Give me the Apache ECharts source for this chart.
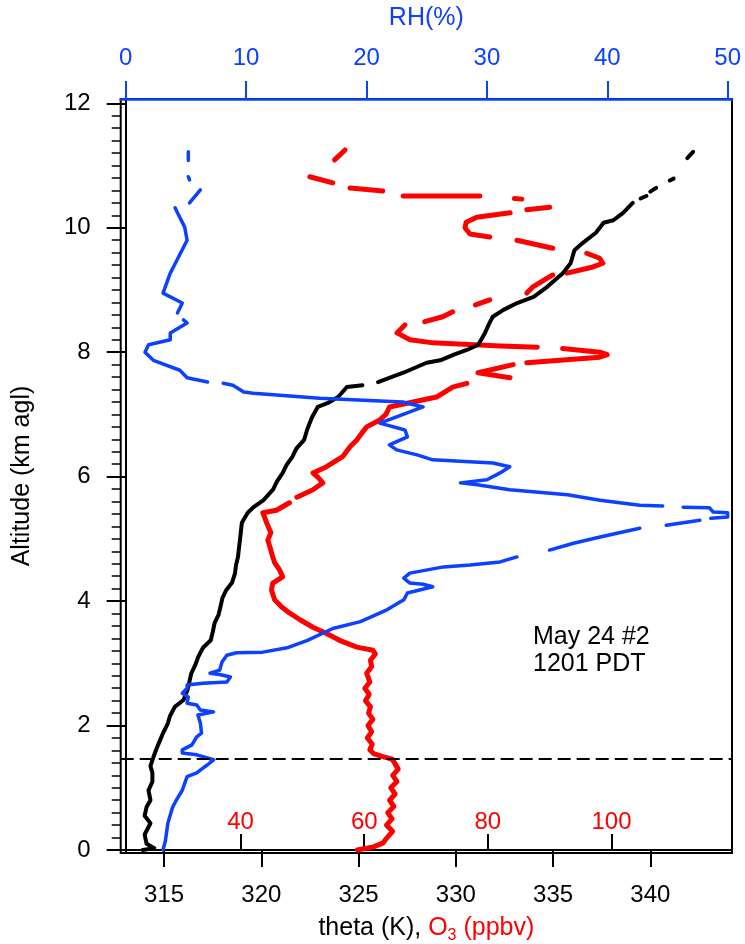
<!DOCTYPE html>
<html>
<head>
<meta charset="utf-8">
<script src="https://cdn.jsdelivr.net/npm/echarts@6/dist/echarts.min.js"></script>
<style>
  html, body { margin: 0; padding: 0; background: #fff; }
  #chart { width: 745px; height: 944px; }
</style>
</head>
<body>
<div id="chart"></div>
<script>
// Ozonesonde profile: potential temperature, ozone and relative humidity vs altitude.
const FONT = '"Liberation Sans", Arial, Helvetica, sans-serif';
const BLUE = '#0b41ff';
const RED = '#ff0000';
const BLACK = '#000000';

// Axis ticks
const altTicks = [0, 2, 4, 6, 8, 10, 12];
const thetaTicks = [315, 320, 325, 330, 335, 340];
const o3Ticks = [40, 60, 80, 100];
const rhTicks = [0, 10, 20, 30, 40, 50];

// Top of the boundary layer (km agl)
const boundaryLayerTop = 1.46;

// [theta (K), altitude (km)]; null marks a data gap
const thetaProfile = [
  [313.9, 0.00], [314.5, 0.03], [314.1, 0.10], [314.0, 0.25], [314.3, 0.43], [314.0, 0.55],
  [314.1, 0.69], [314.3, 0.80], [314.2, 0.96], [314.4, 1.10], [314.4, 1.24], [314.3, 1.35],
  [314.45, 1.49], [314.6, 1.62], [314.8, 1.77], [314.95, 1.88], [315.2, 2.04], [315.3, 2.15],
  [315.55, 2.30], [316.0, 2.41], [316.2, 2.57], [316.3, 2.70], [316.4, 2.84], [316.6, 2.97],
  [316.75, 3.10], [317.0, 3.25], [317.4, 3.37], [317.5, 3.50], [317.6, 3.65], [317.8, 3.78],
  [317.9, 3.91], [318.0, 4.05], [318.2, 4.18], [318.5, 4.30], [318.65, 4.45], [318.7, 4.58],
  [318.8, 4.71], [318.85, 4.85], [318.9, 4.98], [318.95, 5.12], [319.0, 5.26], [319.3, 5.42],
  [319.6, 5.51], [320.1, 5.62], [320.6, 5.79], [320.8, 5.92], [321.1, 6.06], [321.3, 6.19],
  [321.6, 6.32], [321.8, 6.45], [322.2, 6.59], [322.35, 6.75], [322.6, 6.95], [322.9, 7.12],
  [323.4, 7.18], [323.95, 7.28], [324.4, 7.44], [325.2, 7.47],
  null,
  [326.0, 7.52], [327.3, 7.67], [328.5, 7.83], [329.2, 7.87], [329.9, 7.96], [330.6, 8.04],
  [331.15, 8.12], [331.3, 8.20], [331.5, 8.31], [331.7, 8.45], [331.9, 8.57], [332.45, 8.68],
  [333.15, 8.79], [334.0, 8.89], [334.7, 9.05], [335.5, 9.27], [335.9, 9.43], [336.1, 9.64],
  [336.5, 9.75], [337.2, 9.92], [337.6, 10.08], [338.1, 10.12], [338.6, 10.24], [339.1, 10.40],
  null,
  [339.5, 10.47], [339.8, 10.51],
  null,
  [340.0, 10.58], [340.3, 10.64],
  null,
  [341.0, 10.76], [341.2, 10.79],
  null,
  [341.9, 11.12], [342.2, 11.22]
];

// [O3 (ppbv), altitude (km)]
const ozoneProfile = [
  [58.9, 0.00], [61.5, 0.05], [63.0, 0.11], [63.7, 0.20], [64.6, 0.30], [63.6, 0.40],
  [64.5, 0.50], [63.8, 0.60], [64.8, 0.70], [64.1, 0.80], [65.0, 0.90], [64.3, 1.00],
  [65.3, 1.10], [64.6, 1.20], [65.5, 1.30], [64.9, 1.40], [64.5, 1.46], [63.0, 1.50],
  [61.5, 1.55], [60.9, 1.61], [61.3, 1.70], [60.5, 1.80], [61.2, 1.90], [60.6, 2.00],
  [61.4, 2.10], [60.7, 2.20], [61.0, 2.30], [60.2, 2.40], [60.8, 2.50], [60.1, 2.60],
  [60.9, 2.70], [60.4, 2.84], [61.2, 2.95], [61.0, 3.05], [61.8, 3.15], [61.4, 3.21],
  [58.8, 3.26], [56.0, 3.37], [53.9, 3.48], [51.7, 3.58], [49.6, 3.70], [47.9, 3.81],
  [46.6, 3.91], [45.5, 4.02], [45.0, 4.18], [45.2, 4.29], [46.8, 4.39], [46.3, 4.50],
  [45.5, 4.62], [45.2, 4.71], [44.8, 4.85], [44.4, 4.98], [44.9, 5.10], [44.2, 5.26],
  [43.6, 5.42], [45.8, 5.46], [47.9, 5.58],
  null,
  [49.1, 5.67], [51.7, 5.79], [53.3, 5.90], [52.6, 5.98], [51.7, 6.06], [53.9, 6.16],
  [56.5, 6.32], [57.7, 6.48], [58.8, 6.59], [59.6, 6.70], [60.4, 6.80], [62.5, 6.91],
  [63.5, 7.00], [64.1, 7.12], [67.9, 7.20], [71.7, 7.28], [74.3, 7.44], [76.6, 7.50],
  null,
  [83.6, 7.59], [78.4, 7.67], [84.1, 7.80],
  null,
  [86.3, 7.83], [91.7, 7.87], [98.1, 7.92], [99.3, 7.96], [98.1, 8.00], [92.1, 8.06],
  null,
  [88.0, 8.08], [82.0, 8.10], [71.1, 8.15], [67.4, 8.20], [65.3, 8.31], [66.6, 8.44],
  null,
  [69.8, 8.49], [72.7, 8.57], [74.3, 8.65],
  null,
  [78.0, 8.76], [80.3, 8.84],
  null,
  [86.3, 8.95], [87.3, 9.05], [89.6, 9.19], [90.5, 9.24],
  null,
  [92.8, 9.27], [97.0, 9.37], [98.6, 9.43], [98.1, 9.51], [96.0, 9.59],
  null,
  [90.5, 9.67], [84.7, 9.80],
  null,
  [80.3, 9.85], [77.1, 9.90], [76.3, 10.00], [76.5, 10.09], [78.2, 10.17], [83.6, 10.24],
  null,
  [86.3, 10.29], [90.0, 10.33],
  null,
  [85.5, 10.46], [84.3, 10.47],
  null,
  [78.7, 10.51], [66.3, 10.51],
  null,
  [63.0, 10.59], [57.7, 10.64],
  null,
  [54.9, 10.72], [51.2, 10.82],
  null,
  [55.2, 11.09], [56.9, 11.25]
];

// [RH (%), altitude (km)]
const rhProfile = [
  [3.1, 0.00], [3.3, 0.15], [3.5, 0.43], [3.9, 0.69], [4.2, 0.80], [4.7, 0.96],
  [5.1, 1.18], [5.9, 1.24], [6.3, 1.30], [6.8, 1.37], [7.3, 1.45], [5.9, 1.53],
  [4.7, 1.56], [4.7, 1.61], [5.5, 1.69], [5.9, 1.82], [6.3, 1.88], [6.2, 2.04],
  [6.0, 2.17], [7.3, 2.22], [6.2, 2.25], [5.9, 2.33], [5.1, 2.36], [5.2, 2.46],
  [4.7, 2.52], [5.1, 2.60], [5.1, 2.65], [6.4, 2.68], [8.4, 2.70], [8.7, 2.78],
  [7.8, 2.82], [7.0, 2.84], [7.8, 2.89], [8.0, 3.02], [8.4, 3.13], [9.2, 3.17],
  [11.4, 3.18], [13.4, 3.25], [15.1, 3.37], [17.2, 3.56], [19.5, 3.67], [21.7, 3.86],
  [23.1, 4.02], [23.4, 4.13], [25.5, 4.23], [24.7, 4.27], [23.6, 4.29], [23.1, 4.37],
  [23.6, 4.45], [26.4, 4.55], [28.6, 4.58], [31.1, 4.63], [32.5, 4.71],
  null,
  [35.2, 4.82], [37.2, 4.93], [39.4, 5.03], [42.7, 5.17],
  null,
  [44.9, 5.22], [47.7, 5.30],
  null,
  [48.6, 5.33], [50.0, 5.35], [50.0, 5.42], [48.8, 5.43], [48.5, 5.50], [46.3, 5.51],
  null,
  [44.6, 5.53], [42.7, 5.54], [39.4, 5.62], [36.7, 5.71], [31.9, 5.79], [29.2, 5.87],
  [27.8, 5.90], [30.0, 5.95], [31.1, 6.06], [31.9, 6.16], [30.5, 6.22], [25.5, 6.27],
  [24.2, 6.35], [22.5, 6.43], [21.9, 6.51], [23.4, 6.64], [23.2, 6.75], [21.1, 6.86],
  [22.5, 6.96], [24.7, 7.12], [24.7, 7.15], [23.0, 7.20], [16.1, 7.26], [10.6, 7.34],
  [9.8, 7.36], [8.9, 7.47], [8.1, 7.50],
  null,
  [6.8, 7.52], [5.1, 7.59], [4.5, 7.71], [2.3, 7.87], [1.6, 8.00], [1.9, 8.12],
  [3.7, 8.20], [3.7, 8.31], [5.1, 8.47], [4.8, 8.52],
  null,
  [4.3, 8.63], [4.7, 8.79], [3.1, 8.95], [3.7, 9.27], [5.1, 9.80], [4.9, 10.01],
  [4.3, 10.24], [4.1, 10.32],
  null,
  [5.3, 10.40], [6.2, 10.61],
  null,
  [5.3, 10.77], [5.2, 10.82],
  null,
  [5.2, 11.08], [5.2, 11.22]
];

// Minor altitude ticks every 0.2 km
const altMinorTicks = [];
for (let i = 0; i <= 60; i++) {
  if (i % 10 !== 0) altMinorTicks.push(+(i * 0.2).toFixed(1));
}

const toData = prof => prof.map(p => (p ? [p[0], p[1]] : ['-', '-']));

const tickLabel = (color) => ({ color, fontSize: 24, fontFamily: FONT });

const option = {
  animation: false,
  backgroundColor: '#fff',
  grid: {
    left: 120.7, right: 13, top: 99, bottom: 91,
    show: true, borderColor: BLACK, borderWidth: 2, backgroundColor: 'transparent',
    containLabel: false, outerBoundsMode: 'none'
  },
  xAxis: [
    {
      // theta (K)
      type: 'value', position: 'bottom', min: 312.77, max: 344.2,
      axisLine: { show: true, lineStyle: { color: BLACK, width: 2 } },
      axisTick: { show: true, customValues: thetaTicks, length: 17, lineStyle: { color: BLACK, width: 2 } },
      axisLabel: { show: true, customValues: thetaTicks, margin: 30, ...tickLabel(BLACK) },
      splitLine: { show: false },
      name: '{a|theta (K), }{b|O}{c|3}{b| (ppbv)}',
      nameLocation: 'middle', nameGap: 59,
      nameTextStyle: {
        fontSize: 25, fontFamily: FONT, color: BLACK,
        rich: {
          a: { fontSize: 25, fontFamily: FONT, color: BLACK },
          b: { fontSize: 25, fontFamily: FONT, color: RED },
          c: { fontSize: 16, fontFamily: FONT, color: RED, padding: [16, 0, 0, 0] }
        }
      }
    },
    {
      // O3 (ppbv), ticks and labels inside the plot
      type: 'value', position: 'bottom', min: 20.6, max: 119.5,
      axisLine: { show: false },
      axisTick: { show: true, inside: true, customValues: o3Ticks, length: 16, lineStyle: { color: BLACK, width: 2 } },
      axisLabel: { show: true, inside: true, customValues: o3Ticks, margin: 19, ...tickLabel(RED) },
      splitLine: { show: false }
    },
    {
      // RH (%)
      type: 'value', position: 'top', min: -0.415, max: 50.36,
      axisLine: { show: true, lineStyle: { color: BLUE, width: 2.5 } },
      axisTick: { show: true, customValues: rhTicks, length: 18, lineStyle: { color: BLUE, width: 2 } },
      axisLabel: { show: true, customValues: rhTicks, margin: 29, ...tickLabel(BLUE) },
      splitLine: { show: false },
      name: 'RH(%)', nameLocation: 'middle', nameGap: 68,
      nameTextStyle: { fontSize: 25, fontFamily: FONT, color: BLUE }
    }
  ],
  yAxis: [
    {
      type: 'value', position: 'left', min: -0.048, max: 12.069,
      axisLine: { show: true, lineStyle: { color: BLACK, width: 2 } },
      axisTick: { show: true, customValues: altTicks, length: 19, lineStyle: { color: BLACK, width: 2 } },
      axisLabel: { show: true, customValues: altTicks, margin: 30, ...tickLabel(BLACK) },
      splitLine: { show: false },
      name: 'Altitude (km agl)', nameLocation: 'middle', nameGap: 86,
      nameTextStyle: { fontSize: 25, fontFamily: FONT, color: BLACK }
    },
    {
      type: 'value', position: 'left', min: -0.048, max: 12.069,
      axisLine: { show: false },
      axisTick: { show: true, customValues: altMinorTicks, length: 9, lineStyle: { color: BLACK, width: 1.5 } },
      axisLabel: { show: false },
      splitLine: { show: false }
    }
  ],
  series: [
    {
      name: 'O3', type: 'line', xAxisIndex: 1, yAxisIndex: 0, z: 2,
      data: toData(ozoneProfile), showSymbol: false, symbol: 'none', connectNulls: false,
      lineStyle: { color: RED, width: 5, cap: 'round', join: 'round' }
    },
    {
      name: 'theta', type: 'line', xAxisIndex: 0, yAxisIndex: 0, z: 3,
      data: toData(thetaProfile), showSymbol: false, symbol: 'none', connectNulls: false,
      lineStyle: { color: BLACK, width: 4, cap: 'round', join: 'round' },
      markLine: {
        silent: true, symbol: ['none', 'none'], label: { show: false },
        lineStyle: { color: BLACK, width: 2, type: [13, 6] },
        data: [{ yAxis: boundaryLayerTop }]
      }
    },
    {
      name: 'RH', type: 'line', xAxisIndex: 2, yAxisIndex: 0, z: 4,
      data: toData(rhProfile), showSymbol: false, symbol: 'none', connectNulls: false,
      lineStyle: { color: BLUE, width: 3.5, cap: 'round', join: 'round' }
    }
  ],
  graphic: [
    {
      type: 'text', left: 533, top: 624, z: 10,
      style: {
        text: 'May 24 #2\n1201 PDT',
        font: '25px ' + FONT, fill: BLACK, lineHeight: 27
      }
    }
  ]
};

const chart = echarts.init(document.getElementById('chart'), null, { renderer: 'canvas' });
chart.setOption(option);
</script>
</body>
</html>
